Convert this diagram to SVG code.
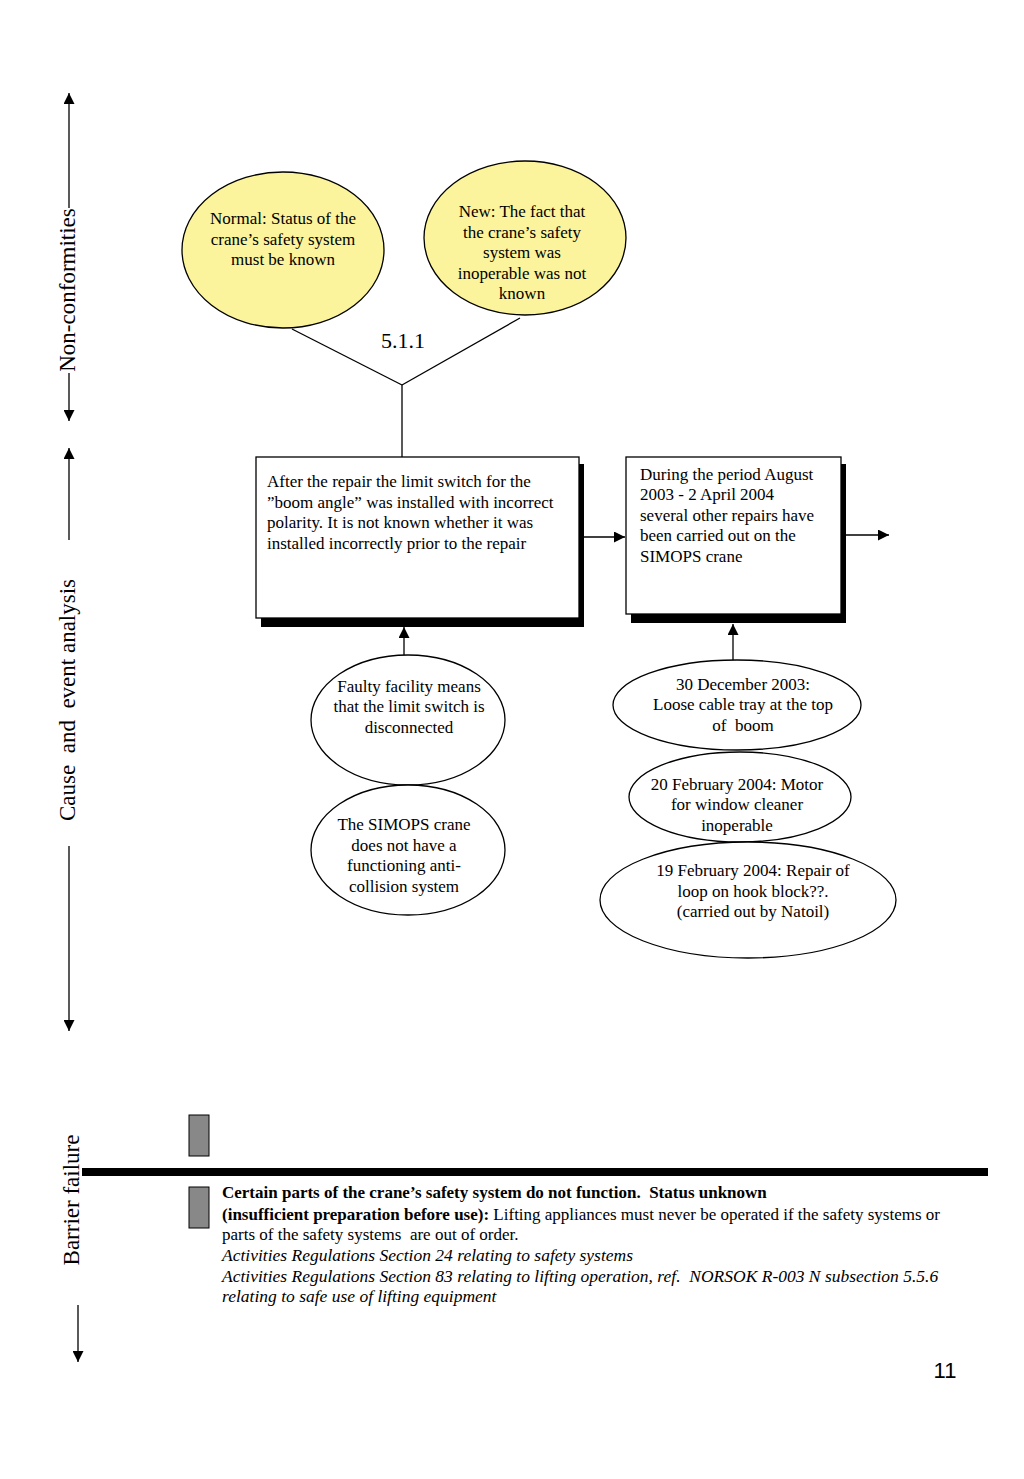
<svg xmlns="http://www.w3.org/2000/svg" width="1024" height="1479" viewBox="0 0 1024 1479">
<style>
  text { font-family: "Liberation Serif", "Times New Roman", serif; fill: #000; white-space: pre; }
  .n { font-size: 17px; }
  .c { text-anchor: middle; }
  .ax { font-size: 23px; }
  .ln { stroke: #000; stroke-width: 1.3; fill: none; }
  .yel { fill: #fbf49c; stroke: #000; stroke-width: 1.3; }
  .wel { fill: #fff; stroke: #000; stroke-width: 1.3; }
  .box { fill: #fff; stroke: #000; stroke-width: 1.3; }
  .sh { fill: #000; }
  .gr { fill: #888; stroke: #000; stroke-width: 1; }
  .b { font-size: 17px; }
  .i { font-size: 17.5px; font-style: italic; }
</style>
<defs>
  <marker id="ah" viewBox="0 0 10 10" refX="10" refY="5" markerWidth="11" markerHeight="11" markerUnits="userSpaceOnUse" orient="auto">
    <path d="M0,0 L10,5 L0,10 z" fill="#000"/>
  </marker>
  <marker id="ah2" viewBox="0 0 10 10" refX="10" refY="5" markerWidth="11" markerHeight="11" markerUnits="userSpaceOnUse" orient="auto">
    <path d="M0,0 L10,5 L0,10 z" fill="#000"/>
  </marker>
</defs>
<rect width="1024" height="1479" fill="#fff"/>

<g id="axis">
  <line class="ln" x1="69" y1="208" x2="69" y2="93" marker-end="url(#ah2)"/>
  <line class="ln" x1="69" y1="373" x2="69" y2="421" marker-end="url(#ah2)"/>
  <text class="ax" transform="translate(75,290) rotate(-90)" text-anchor="middle">Non-conformities</text>
  <line class="ln" x1="69" y1="540" x2="69" y2="448" marker-end="url(#ah2)"/>
  <line class="ln" x1="69" y1="846" x2="69" y2="1031" marker-end="url(#ah2)"/>
  <text class="ax" transform="translate(75,700) rotate(-90)" text-anchor="middle">Cause  and  event analysis</text>
  <text class="ax" transform="translate(79,1200) rotate(-90)" text-anchor="middle">Barrier failure</text>
  <line class="ln" x1="78" y1="1305" x2="78" y2="1362" marker-end="url(#ah2)"/>
</g>

<g id="connectors">
  <line class="ln" x1="292" y1="329" x2="402" y2="385"/>
  <line class="ln" x1="520" y1="318" x2="402" y2="385"/>
  <line class="ln" x1="402" y1="385" x2="402" y2="457"/>
  <line class="ln" x1="584" y1="537" x2="625" y2="537" marker-end="url(#ah)"/>
  <line class="ln" x1="846" y1="535" x2="889" y2="535" marker-end="url(#ah)"/>
  <line class="ln" x1="404" y1="655" x2="404" y2="627" marker-end="url(#ah)"/>
  <line class="ln" x1="733" y1="660" x2="733" y2="624" marker-end="url(#ah)"/>
</g>

<g id="label-511"><text x="403" y="348" class="c" font-size="22">5.1.1</text></g>

<g id="normal">
  <ellipse class="yel" cx="283" cy="250" rx="101" ry="78"/>
  <text class="n c" x="283" y="224">Normal: Status of the</text>
  <text class="n c" x="283" y="245">crane’s safety system</text>
  <text class="n c" x="283" y="265">must be known</text>
</g>

<g id="new">
  <ellipse class="yel" cx="525" cy="238" rx="101" ry="77"/>
  <text class="n c" x="522" y="217">New: The fact that</text>
  <text class="n c" x="522" y="238">the crane’s safety</text>
  <text class="n c" x="522" y="258">system was</text>
  <text class="n c" x="522" y="279">inoperable was not</text>
  <text class="n c" x="522" y="299">known</text>
</g>

<g id="box1">
  <rect class="sh" x="261" y="464" width="323" height="163"/>
  <rect class="box" x="256" y="457" width="323" height="161"/>
  <text class="n" x="267" y="487">After the repair the limit switch for the</text>
  <text class="n" x="267" y="508">”boom angle” was installed with incorrect</text>
  <text class="n" x="267" y="528">polarity. It is not known whether it was</text>
  <text class="n" x="267" y="549">installed incorrectly prior to the repair</text>
</g>

<g id="box2">
  <rect class="sh" x="631" y="464" width="215" height="159"/>
  <rect class="box" x="626" y="457" width="215" height="157"/>
  <text class="n" x="640" y="480">During the period August</text>
  <text class="n" x="640" y="500">2003 - 2 April 2004</text>
  <text class="n" x="640" y="521">several other repairs have</text>
  <text class="n" x="640" y="541">been carried out on the</text>
  <text class="n" x="640" y="562">SIMOPS crane</text>
</g>

<g id="faulty">
  <ellipse class="wel" cx="408" cy="720" rx="97" ry="65"/>
  <text class="n c" x="409" y="692">Faulty facility means</text>
  <text class="n c" x="409" y="712">that the limit switch is</text>
  <text class="n c" x="409" y="733">disconnected</text>
</g>

<g id="simops">
  <ellipse class="wel" cx="408" cy="850" rx="97" ry="65"/>
  <text class="n c" x="404" y="830">The SIMOPS crane</text>
  <text class="n c" x="404" y="851">does not have a</text>
  <text class="n c" x="404" y="871">functioning anti-</text>
  <text class="n c" x="404" y="892">collision system</text>
</g>

<g id="dec30">
  <ellipse class="wel" cx="737" cy="705" rx="124" ry="45"/>
  <text class="n c" x="743" y="690">30 December 2003:</text>
  <text class="n c" x="743" y="710">Loose cable tray at the top</text>
  <text class="n c" x="743" y="731">of  boom</text>
</g>

<g id="feb20">
  <ellipse class="wel" cx="740" cy="797" rx="111" ry="45"/>
  <text class="n c" x="737" y="790">20 February 2004: Motor</text>
  <text class="n c" x="737" y="810">for window cleaner</text>
  <text class="n c" x="737" y="831">inoperable</text>
</g>

<g id="feb19">
  <ellipse class="wel" cx="748" cy="900" rx="148" ry="58"/>
  <text class="n c" x="753" y="876">19 February 2004: Repair of</text>
  <text class="n c" x="753" y="897">loop on hook block??.</text>
  <text class="n c" x="753" y="917">(carried out by Natoil)</text>
</g>

<g id="barrier">
  <rect class="gr" x="189" y="1115" width="20" height="41"/>
  <rect x="82" y="1168" width="906" height="8" fill="#000"/>
  <rect class="gr" x="189" y="1187" width="20" height="41"/>
  <text class="b" x="222" y="1198" font-weight="bold">Certain parts of the crane’s safety system do not function.  Status unknown</text>
  <text class="b" x="222" y="1220"><tspan font-weight="bold">(insufficient preparation before use):</tspan> Lifting appliances must never be operated if the safety systems or</text>
  <text class="b" x="222" y="1240">parts of the safety systems  are out of order.</text>
  <text class="i" x="222" y="1261">Activities Regulations Section 24 relating to safety systems</text>
  <text class="i" x="222" y="1282">Activities Regulations Section 83 relating to lifting operation, ref.  NORSOK R-003 N subsection 5.5.6</text>
  <text class="i" x="222" y="1302">relating to safe use of lifting equipment</text>
</g>

<g id="page"><text x="945" y="1378" text-anchor="middle" font-size="22" style="font-family:'Liberation Sans', Arial, sans-serif">11</text></g>
</svg>
